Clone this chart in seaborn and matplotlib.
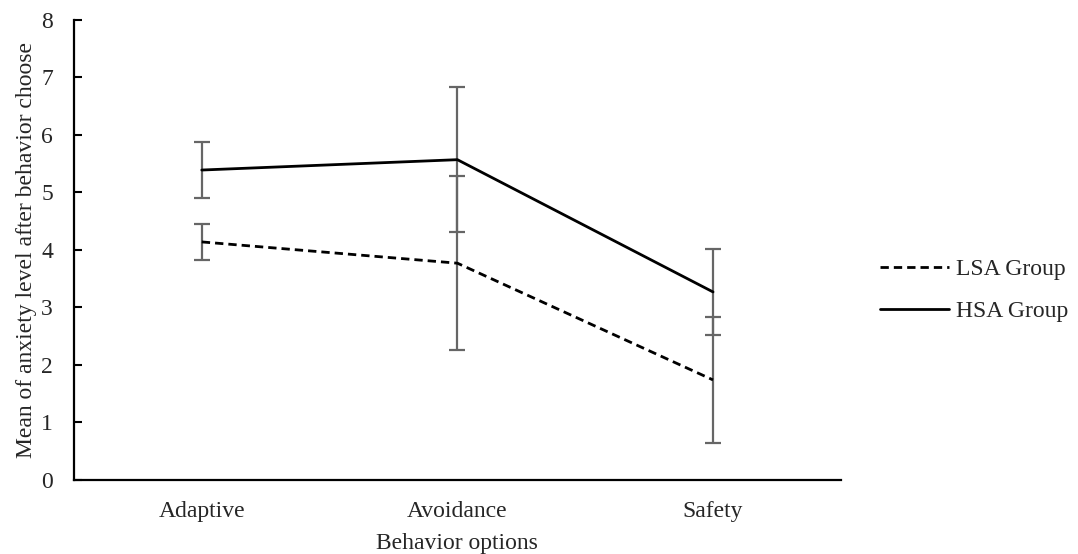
import matplotlib
matplotlib.use("Agg")
import matplotlib.pyplot as plt
import seaborn as sns
import pandas as pd
from matplotlib.lines import Line2D

# Mean anxiety ratings and their error margins per behaviour option
categories = ["Adaptive", "Avoidance", "Safety"]
groups = ["LSA Group", "HSA Group"]
lsa_means = [4.14, 3.77, 1.74]
lsa_err = [0.31, 1.51, 1.10]
hsa_means = [5.39, 5.57, 3.27]
hsa_err = [0.49, 1.26, 0.75]
y_ticks = [0, 1, 2, 3, 4, 5, 6, 7, 8]

df = pd.DataFrame({
    "option": categories * 2,
    "group": [groups[0]] * 3 + [groups[1]] * 3,
    "mean": lsa_means + hsa_means,
    "err": lsa_err + hsa_err,
})

sns.set_theme(style="white")
plt.rcParams["font.family"] = ["Liberation Serif", "DejaVu Serif"]
FS = 17

fig = plt.figure(figsize=(10.78, 5.54), dpi=100)
ax = fig.add_axes([0.0686, 0.1336, 0.7114, 0.8304])

# error bars first, so the lines sit on top
for g in groups:
    sub = df[df["group"] == g]
    ax.errorbar(range(len(sub)), sub["mean"], yerr=sub["err"], fmt="none",
                ecolor="#666666", elinewidth=1.6, capsize=6, capthick=1.6, zorder=2)

sns.lineplot(data=df, x="option", y="mean", hue="group", style="group",
             hue_order=groups, style_order=groups,
             palette={groups[0]: "black", groups[1]: "black"},
             dashes={groups[0]: (3, 1.8), groups[1]: ""},
             linewidth=2, ax=ax, legend=False, zorder=3, sort=False)

ax.set_xlim(-0.5, 2.5)
ax.set_ylim(0, 8)
ax.set_yticks(y_ticks)
ax.set_yticklabels([str(t) for t in y_ticks], fontsize=FS)

# category names centred between boundary ticks
ax.set_xticks([0.5, 1.5, 2.5])
ax.set_xticklabels([])
ax.set_xticks([0, 1, 2], minor=True)
ax.set_xticklabels(categories, minor=True, fontsize=FS)
ax.tick_params(axis="x", which="major", direction="in", length=6, width=1.5, color="black")
ax.tick_params(axis="x", which="minor", length=0, pad=15)
ax.tick_params(axis="y", direction="in", length=6, width=1.5, color="black", pad=15, left=True)

for s in ["top", "right"]:
    ax.spines[s].set_visible(False)
for s in ["left", "bottom"]:
    ax.spines[s].set_color("black")
    ax.spines[s].set_linewidth(1.6)

ax.set_xlabel("Behavior options", fontsize=FS, labelpad=8)
ax.set_ylabel("Mean of anxiety level after behavior choose", fontsize=FS, labelpad=3)
ax.grid(False)

handles = [Line2D([], [], color="black", lw=2, dashes=(3, 1.8)),
           Line2D([], [], color="black", lw=2)]
fig.legend(handles, groups, loc="center left", bbox_to_anchor=(0.8165, 0.476),
           frameon=False, fontsize=FS, handlelength=2.9, handletextpad=0.3,
           labelspacing=0.85, borderpad=0, borderaxespad=0)

fig.savefig("out.png", dpi=100, facecolor="white")
